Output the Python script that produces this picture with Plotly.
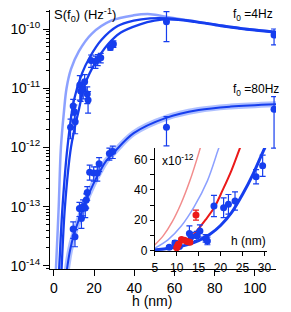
import plotly.graph_objects as go

# ---------------- data ----------------
# f0 = 4 Hz measurements (S in Hz^-1)
h4 = [8.3, 9.6, 10.2, 10.6, 12.9, 13.3, 14.6, 15.3, 16.6, 17.0, 18.5, 20.7, 21.8, 23.3, 28.1, 29.6, 56.0, 109.5]
s4_e12 = [2.2, 5.0, 4.0, 2.7, 11.3, 9.0, 9.6, 12.9, 8.0, 6.3, 29.4, 28.2, 30.5, 32.7, 48.7, 56.0, 133.0, 79.0]
e4p_e12 = [0.8, 1.5, 1.2, 1.0, 5.0, 3.0, 3.0, 4.0, 2.5, 2.5, 7.0, 6.5, 6.5, 6.0, 4.7, 7.0, 63.0, 21.0]
e4m_e12 = [0.8, 1.5, 1.2, 1.0, 5.0, 3.0, 3.0, 4.0, 2.5, 2.5, 7.0, 6.5, 6.5, 6.0, 4.7, 7.0, 72.0, 25.0]

# f0 = 80 Hz measurements
h80 = [9.6, 10.5, 12.7, 13.7, 14.5, 15.6, 16.1, 16.6, 17.8, 19.8, 21.6, 22.5, 27.6, 29.3, 56.0, 109.5]
s80_e14 = [4.2, 3.1, 9.3, 6.3, 10.0, 9.5, 12.9, 17.3, 38.0, 37.0, 37.0, 53.0, 79.0, 85.0, 218.0, 440.0]
e80p_e14 = [1.3, 1.0, 2.5, 2.0, 3.0, 3.0, 3.5, 4.5, 12.0, 10.0, 10.0, 14.0, 18.0, 20.0, 112.0, 280.0]
e80m_e14 = [1.3, 1.0, 2.5, 2.0, 3.0, 3.0, 3.5, 4.5, 10.0, 10.0, 10.0, 14.0, 18.0, 20.0, 112.0, 343.0]

# model curves, main panel
hL4 = [0.8, 1.1, 2.4, 3.5, 5.0, 6.3, 8.5, 12.4, 18.8, 28.5, 39.6, 48.0, 57.0, 70.0, 83.0, 96.0, 111.0]
sL4 = [6.3e-15, 1.0e-14, 1.0e-13, 1.0e-12, 4.0e-12, 1.0e-11, 2.1e-11, 4.2e-11, 8.3e-11, 1.38e-10,
       1.70e-10, 1.78e-10, 1.58e-10, 1.35e-10, 1.15e-10, 1.0e-10, 8.9e-11]
hD1 = [2.4, 2.7, 4.3, 6.75, 10.0, 14.0, 18.0, 23.6, 31.7, 39.7, 47.8, 57.0, 70.0, 83.0, 96.0, 111.0]
sD1 = [6.3e-15, 1.0e-14, 1.0e-13, 1.0e-12, 6.3e-12, 1.78e-11, 3.4e-11, 6.5e-11, 1.12e-10, 1.38e-10,
       1.51e-10, 1.51e-10, 1.35e-10, 1.15e-10, 1.0e-10, 8.9e-11]
hD2 = [3.6, 3.9, 5.5, 8.5, 12.4, 15.6, 20.4, 26.9, 33.3, 42.9, 50.0, 57.0, 70.0, 83.0, 96.0, 111.0]
sD2 = [6.3e-15, 1.0e-14, 1.0e-13, 1.0e-12, 4.3e-12, 1.2e-11, 2.63e-11, 5.5e-11, 8.7e-11, 1.2e-10,
       1.38e-10, 1.45e-10, 1.32e-10, 1.12e-10, 9.8e-11, 8.7e-11]
hC80 = [6.5, 8.0, 10.0, 13.2, 16.0, 19.6, 23.0, 26.0, 30.0, 39.7, 55.8, 72.0, 88.0, 111.0]
sC80 = [8.7e-15, 1.8e-14, 3.4e-14, 7.1e-14, 1.26e-13, 2.4e-13, 4.0e-13, 5.9e-13, 8.3e-13, 1.74e-12,
        3.16e-12, 4.27e-12, 4.9e-12, 5.37e-12]

# inset: red data (x1e-12)
hr = [10.0, 10.2, 10.4, 11.1, 11.8, 12.4, 13.0, 14.4]
sr = [1.8, 3.0, 4.2, 7.2, 6.8, 6.0, 5.4, 23.4]
er = [0.8, 0.8, 0.8, 1.0, 1.0, 1.0, 1.0, 3.3]

# inset curves (x1e-12)
hLR = [5, 7, 9, 11, 13, 15, 15.5]
sLR = [3.7, 10, 19, 31, 46, 64, 69]
hLB = [5, 8, 11, 14, 17, 19.4, 20]
sLB = [1.5, 7, 16, 29, 46, 66, 71]
hR = [10, 12, 14, 16.5, 18.6, 20.5, 22.5, 24.2, 24.6]
sR = [3.4, 6.5, 11, 20, 28.5, 40, 53, 66, 69]
hB = [5, 7.5, 10, 12.5, 15, 17.5, 20, 22.5, 25, 27.5, 29.8, 30.5]
sB = [0.4, 1.2, 2.3, 3.9, 6.5, 10.5, 16.5, 25, 37, 51, 66, 70]

ytick_vals = [1e-14, 1e-13, 1e-12, 1e-11, 1e-10]
ytick_text = ["10<sup>-14</sup>", "10<sup>-13</sup>", "10<sup>-12</sup>", "10<sup>-11</sup>", "10<sup>-10</sup>"]
xtick_vals = [0, 20, 40, 60, 80, 100]
ins_xticks = [5, 10, 15, 20, 25, 30]
ins_yticks = [0, 20, 40, 60]

# ---------------- styles / layout ----------------
W, H = 291, 312
L, T, PW, PH = 47, 10, 233, 259
FONT = "Liberation Sans, Arial, sans-serif"
BLUE = "rgb(22,62,238)"
LBLUE = "rgba(120,145,255,0.85)"
RED = "rgb(235,25,25)"
LRED = "rgb(242,140,140)"

def px(x):
    return (x - L) / PW

def py(y):
    return (T + PH - y) / PH

fig = go.Figure()

# main curves
fig.add_trace(go.Scatter(x=hL4, y=sL4, mode="lines", line=dict(color=LBLUE, width=2.5, shape="spline")))
fig.add_trace(go.Scatter(x=hD1, y=sD1, mode="lines", line=dict(color=BLUE, width=2.3, shape="spline")))
fig.add_trace(go.Scatter(x=hD2, y=sD2, mode="lines", line=dict(color=BLUE, width=2.3, shape="spline")))
fig.add_trace(go.Scatter(x=hC80, y=sC80, mode="lines", line=dict(color="rgba(110,140,255,0.55)", width=6, shape="spline")))
fig.add_trace(go.Scatter(x=hC80, y=sC80, mode="lines", line=dict(color=BLUE, width=2, shape="spline")))

# main data
fig.add_trace(go.Scatter(
    x=h4, y=[v * 1e-12 for v in s4_e12], mode="markers",
    marker=dict(color=BLUE, size=7),
    error_y=dict(type="data", symmetric=False, array=[v * 1e-12 for v in e4p_e12],
                 arrayminus=[v * 1e-12 for v in e4m_e12], color=BLUE, thickness=1.2, width=3)))
fig.add_trace(go.Scatter(
    x=h80, y=[v * 1e-14 for v in s80_e14], mode="markers",
    marker=dict(color=BLUE, size=7),
    error_y=dict(type="data", symmetric=False, array=[v * 1e-14 for v in e80p_e14],
                 arrayminus=[v * 1e-14 for v in e80m_e14], color=BLUE, thickness=1.2, width=3)))

# inset curves
for hx, sy, col, wd in [(hLR, sLR, LRED, 1.5), (hLB, sLB, "rgb(140,160,255)", 1.5),
                        (hR, sR, RED, 2), (hB, sB, BLUE, 3)]:
    fig.add_trace(go.Scatter(x=hx, y=sy, mode="lines", xaxis="x2", yaxis="y2",
                             line=dict(color=col, width=wd, shape="spline")))

# inset data
fig.add_trace(go.Scatter(
    x=h4, y=s4_e12, mode="markers", xaxis="x2", yaxis="y2",
    marker=dict(color=BLUE, size=7),
    error_y=dict(type="data", symmetric=False, array=e4p_e12, arrayminus=e4m_e12,
                 color=BLUE, thickness=1.2, width=3)))
fig.add_trace(go.Scatter(
    x=hr, y=sr, mode="markers", xaxis="x2", yaxis="y2",
    marker=dict(color=RED, size=7),
    error_y=dict(type="data", array=er, color=RED, thickness=1.2, width=3)))

xr0 = (L - 51) / 2.073
xr1 = (L + PW - 51) / 2.073

fig.update_layout(
    width=W, height=H,
    margin=dict(l=L, r=W - L - PW, t=T, b=H - T - PH),
    paper_bgcolor="white", plot_bgcolor="rgba(0,0,0,0)",
    showlegend=False,
    font=dict(family=FONT, color="black", size=14),
    xaxis=dict(range=[xr0, xr1], showgrid=False, zeroline=False, showline=True,
               linecolor="black", linewidth=1, ticks="outside", ticklen=6,
               tickcolor="black", tickvals=xtick_vals, tickfont=dict(size=14),
               ticklabelstandoff=0),
    yaxis=dict(type="log", range=[-14.054, -9.679], showgrid=False, zeroline=False,
               showline=True, linecolor="black", linewidth=1, ticks="outside",
               ticklen=6, tickcolor="black", tickvals=ytick_vals, ticktext=ytick_text,
               tickfont=dict(size=14),
               minor=dict(ticks="outside", ticklen=3, tickcolor="black", dtick="D1", showgrid=False)),
    xaxis2=dict(domain=[px(155), px(270.3)], anchor="y2", range=[5, 30.5],
                showgrid=False, zeroline=False, showline=True, linecolor="black",
                linewidth=1, ticks="outside", ticklen=4, tickcolor="black",
                tickvals=ins_xticks, tickfont=dict(size=12), ticklabelstandoff=2),
    yaxis2=dict(domain=[py(251), py(148)], anchor="x2", range=[-0.33, 67.7],
                showgrid=False, zeroline=False, showline=True, linecolor="black",
                linewidth=1, ticks="outside", ticklen=4, tickcolor="black",
                tickvals=ins_yticks, tickfont=dict(size=12),
                minor=dict(ticks="outside", ticklen=4, tickcolor="black", dtick=10, showgrid=False)),
)

ann = [
    dict(text="S(f<sub>0</sub>) (Hz<sup>-1</sup>)", x=px(49), y=py(15), xanchor="left", yanchor="middle", size=13),
    dict(text="f<sub>0</sub> =4Hz", x=px(234), y=py(15), xanchor="left", yanchor="middle", size=12),
    dict(text="f<sub>0</sub> =80Hz", x=px(234), y=py(90), xanchor="left", yanchor="middle", size=12),
    dict(text="h (nm)", x=px(152), y=py(301), xanchor="center", yanchor="middle", size=14),
    dict(text="x10<sup>-12</sup>", x=px(160), y=py(160), xanchor="left", yanchor="middle", size=12),
    dict(text="h (nm)", x=px(232), y=py(241), xanchor="left", yanchor="middle", size=12),
]
for a in ann:
    fig.add_annotation(text=a["text"], x=a["x"], y=a["y"], xref="paper", yref="paper",
                       xanchor=a["xanchor"], yanchor=a["yanchor"], showarrow=False,
                       font=dict(family=FONT, size=a["size"], color="black"))

fig.write_html("out.html", config={"displayModeBar": False},
               post_script="document.body.style.margin='0';")
